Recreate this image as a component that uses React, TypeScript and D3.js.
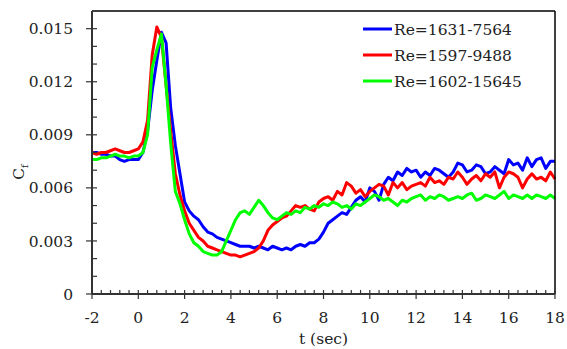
import { useEffect, useRef } from 'react'
import * as d3 from 'd3'

// sample times, -2 .. 18 s every 0.2 s
const TIMES = d3.range(0, 101).map((i) => -2 + i * 0.2)

// Cf, rows of 2 s
const BLUE = [
  0.0080, 0.0080, 0.0079, 0.0079, 0.0078, 0.0078, 0.0076, 0.0075, 0.0076, 0.0076,
  0.0076, 0.0080, 0.0092, 0.0115, 0.0132, 0.0148, 0.0142, 0.0105, 0.0084, 0.0068,
  0.0052, 0.0047, 0.0044, 0.0042, 0.0038, 0.0035, 0.0034, 0.0032, 0.0031, 0.0030,
  0.0029, 0.0028, 0.0027, 0.0027, 0.0027, 0.0026, 0.0027, 0.0026, 0.0025, 0.0027,
  0.0026, 0.0025, 0.0026, 0.0025, 0.0027, 0.0028, 0.0027, 0.0029, 0.0029, 0.0031,
  0.0035, 0.0040, 0.0042, 0.0044, 0.0046, 0.0045, 0.0049, 0.0053, 0.0055, 0.0052,
  0.0060, 0.0058, 0.0053, 0.0062, 0.0066, 0.0064, 0.0069, 0.0067, 0.0071, 0.0069,
  0.0070, 0.0066, 0.0069, 0.0067, 0.0071, 0.0070, 0.0068, 0.0066, 0.0069, 0.0074,
  0.0073, 0.0069, 0.0070, 0.0073, 0.0072, 0.0068, 0.0069, 0.0072, 0.0070, 0.0068,
  0.0076, 0.0073, 0.0074, 0.0070, 0.0077, 0.0072, 0.0076, 0.0077, 0.0071, 0.0075,
  0.0075,
]

const RED = [
  0.0080, 0.0079, 0.0080, 0.0080, 0.0081, 0.0082, 0.0081, 0.0080, 0.0080, 0.0081,
  0.0082, 0.0086, 0.0098, 0.0135, 0.0151, 0.0145, 0.0118, 0.0092, 0.0068, 0.0056,
  0.0047, 0.0040, 0.0036, 0.0032, 0.0030, 0.0027, 0.0026, 0.0025, 0.0024, 0.0023,
  0.0022, 0.0022, 0.0021, 0.0022, 0.0023, 0.0024, 0.0026, 0.0030, 0.0036, 0.0039,
  0.0041, 0.0043, 0.0044, 0.0047, 0.0050, 0.0049, 0.0050, 0.0048, 0.0047, 0.0052,
  0.0054, 0.0055, 0.0053, 0.0058, 0.0056, 0.0063, 0.0061, 0.0057, 0.0059, 0.0055,
  0.0058, 0.0060, 0.0062, 0.0061, 0.0056, 0.0063, 0.0060, 0.0063, 0.0059, 0.0061,
  0.0062, 0.0063, 0.0061, 0.0066, 0.0063, 0.0064, 0.0062, 0.0066, 0.0065, 0.0069,
  0.0066, 0.0062, 0.0065, 0.0067, 0.0064, 0.0068, 0.0066, 0.0069, 0.0060, 0.0066,
  0.0069, 0.0068, 0.0066, 0.0060, 0.0065, 0.0068, 0.0065, 0.0066, 0.0064, 0.0069,
  0.0065,
]

const GREEN = [
  0.0076, 0.0076, 0.0077, 0.0077, 0.0078, 0.0079, 0.0078, 0.0078, 0.0077, 0.0078,
  0.0078, 0.0080, 0.0090, 0.0128, 0.0138, 0.0147, 0.0118, 0.0085, 0.0058, 0.0051,
  0.0042, 0.0034, 0.0029, 0.0027, 0.0024, 0.0023, 0.0022, 0.0022, 0.0024, 0.0030,
  0.0036, 0.0042, 0.0046, 0.0047, 0.0045, 0.0049, 0.0053, 0.0050, 0.0046, 0.0043,
  0.0042, 0.0044, 0.0046, 0.0045, 0.0047, 0.0046, 0.0049, 0.0048, 0.0050, 0.0049,
  0.0051, 0.0050, 0.0052, 0.0051, 0.0049, 0.0050, 0.0048, 0.0051, 0.0050, 0.0052,
  0.0054, 0.0056, 0.0055, 0.0053, 0.0054, 0.0052, 0.0050, 0.0053, 0.0052, 0.0054,
  0.0055, 0.0056, 0.0053, 0.0055, 0.0054, 0.0056, 0.0055, 0.0053, 0.0054, 0.0055,
  0.0054, 0.0056, 0.0057, 0.0053, 0.0054, 0.0056, 0.0055, 0.0054, 0.0056, 0.0058,
  0.0054, 0.0056, 0.0055, 0.0054, 0.0056, 0.0054, 0.0056, 0.0055, 0.0054, 0.0056,
  0.0054,
]

const SERIES = [
  { name: 'Re=1631-7564', color: '#0000FF', values: BLUE },
  { name: 'Re=1597-9488', color: '#FF0000', values: RED },
  { name: 'Re=1602-15645', color: '#00FF00', values: GREEN },
]

const X_TICKS = [-2, 0, 2, 4, 6, 8, 10, 12, 14, 16, 18]
const Y_TICKS = [0, 0.003, 0.006, 0.009, 0.012, 0.015]

const FONT = 'DejaVu Serif, serif'

export default function App() {
  const svgRef = useRef<SVGSVGElement>(null)

  useEffect(() => {
    if (!svgRef.current) return
    const width = 567
    const height = 349
    const margin = { top: 11, right: 12, bottom: 55, left: 92 }
    const innerW = width - margin.left - margin.right
    const innerH = height - margin.top - margin.bottom

    const x = d3.scaleLinear().domain([-2, 18]).range([0, innerW])
    const y = d3.scaleLinear().domain([0, 0.016]).range([innerH, 0])

    d3.select(svgRef.current).selectAll('*').remove()
    const svg = d3.select(svgRef.current).attr('width', width).attr('height', height)
    svg.append('rect').attr('width', width).attr('height', height).attr('fill', '#fff')
    const g = svg.append('g').attr('transform', `translate(${margin.left},${margin.top})`)

    // ---- series ----
    const line = d3
      .line<number>()
      .x((_, i) => x(TIMES[i]))
      .y((v) => y(v))
    for (const s of SERIES) {
      g.append('path')
        .datum(s.values.slice(0, TIMES.length))
        .attr('d', line)
        .attr('fill', 'none')
        .attr('stroke', s.color)
        .attr('stroke-width', 3)
        .attr('stroke-linejoin', 'round')
    }

    // ---- frame ----
    g.append('line').attr('x1', 0).attr('x2', innerW).attr('y1', 0).attr('y2', 0)
      .attr('stroke', '#000').attr('stroke-width', 1.5)
    g.append('line').attr('x1', innerW).attr('x2', innerW).attr('y1', 0).attr('y2', innerH)
      .attr('stroke', '#000').attr('stroke-width', 1.5)
    g.append('line').attr('x1', 0).attr('x2', 0).attr('y1', 0).attr('y2', innerH)
      .attr('stroke', '#333').attr('stroke-width', 2)
    g.append('line').attr('x1', 0).attr('x2', innerW).attr('y1', innerH).attr('y2', innerH)
      .attr('stroke', '#333').attr('stroke-width', 2)

    // ---- y ticks ----
    const yMinor = d3.range(1, 16).map((k) => k * 0.001).filter((v) => !Y_TICKS.some((t) => Math.abs(t - v) < 1e-9))
    for (const v of yMinor) {
      g.append('line').attr('x1', 0).attr('x2', 5).attr('y1', y(v)).attr('y2', y(v))
        .attr('stroke', '#333').attr('stroke-width', 1.2)
    }
    const yFmt = d3.format('.3f')
    for (const v of Y_TICKS) {
      g.append('line').attr('x1', -6).attr('x2', 5).attr('y1', y(v)).attr('y2', y(v))
        .attr('stroke', '#333').attr('stroke-width', 1.2)
      g.append('text')
        .attr('x', -19)
        .attr('y', y(v))
        .attr('dy', '0.36em')
        .attr('text-anchor', 'end')
        .attr('font-family', FONT)
        .attr('font-size', '15.5px')
        .attr('fill', '#222')
        .text(v === 0 ? '0' : yFmt(v))
    }

    // ---- x ticks ----
    const xMinor = d3.range(0, 51).map((k) => -2 + k * 0.4).filter((v) => !X_TICKS.some((t) => Math.abs(t - v) < 1e-6))
    for (const v of xMinor) {
      g.append('line').attr('x1', x(v)).attr('x2', x(v)).attr('y1', innerH - 4).attr('y2', innerH)
        .attr('stroke', '#333').attr('stroke-width', 1.2)
    }
    for (const v of X_TICKS) {
      g.append('line').attr('x1', x(v)).attr('x2', x(v)).attr('y1', innerH - 4).attr('y2', innerH + 5)
        .attr('stroke', '#333').attr('stroke-width', 1.2)
      g.append('text')
        .attr('x', x(v))
        .attr('y', innerH + 29)
        .attr('text-anchor', 'middle')
        .attr('font-family', FONT)
        .attr('font-size', '15.5px')
        .attr('fill', '#222')
        .text(String(v))
    }

    // ---- axis titles ----
    svg.append('text')
      .attr('x', margin.left + x(8))
      .attr('y', 344)
      .attr('text-anchor', 'middle')
      .attr('font-family', FONT)
      .attr('font-size', '15.5px')
      .attr('fill', '#222')
      .text('t (sec)')

    const cf = svg.append('text')
      .attr('transform', `translate(24,${margin.top + y(0.0069)}) rotate(-90)`)
      .attr('text-anchor', 'middle')
      .attr('font-family', FONT)
      .attr('font-size', '15.5px')
      .attr('fill', '#222')
    cf.append('tspan').text('C')
    cf.append('tspan').attr('font-size', '10px').attr('dy', 4).text('f')

    // ---- legend ----
    SERIES.forEach((s, i) => {
      const yPos = 29 + i * 26
      svg.append('line')
        .attr('x1', 363).attr('x2', 392).attr('y1', yPos).attr('y2', yPos)
        .attr('stroke', s.color).attr('stroke-width', 3)
      svg.append('text')
        .attr('x', 394)
        .attr('y', yPos)
        .attr('dy', '0.36em')
        .attr('font-family', FONT)
        .attr('font-size', '15.5px')
        .attr('fill', '#222')
        .text(s.name)
    })
  }, [])

  return (
    <div style={{ position: 'absolute', left: 0, top: 0 }}>
      <svg ref={svgRef} style={{ display: 'block' }} />
    </div>
  )
}
